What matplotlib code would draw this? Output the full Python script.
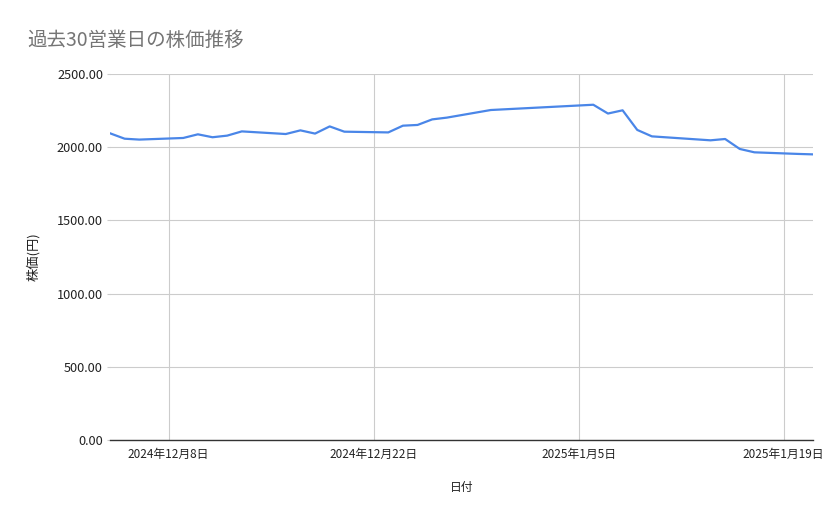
import datetime as dt
import matplotlib
matplotlib.use("Agg")
import matplotlib.pyplot as plt
from matplotlib.ticker import FuncFormatter

plt.rcParams['font.family'] = ['Noto Sans CJK JP', 'DejaVu Sans']

dates = ["2024-12-04", "2024-12-05", "2024-12-06", "2024-12-09", "2024-12-10",
         "2024-12-11", "2024-12-12", "2024-12-13", "2024-12-16", "2024-12-17",
         "2024-12-18", "2024-12-19", "2024-12-20", "2024-12-23", "2024-12-24",
         "2024-12-25", "2024-12-26", "2024-12-27", "2024-12-30", "2025-01-06",
         "2025-01-07", "2025-01-08", "2025-01-09", "2025-01-10", "2025-01-14",
         "2025-01-15", "2025-01-16", "2025-01-17", "2025-01-20", "2025-01-21"]
prices = [2095, 2058, 2052, 2063, 2088,
          2068, 2079, 2108, 2090, 2115,
          2093, 2142, 2106, 2101, 2147,
          2152, 2190, 2202, 2254, 2290,
          2230, 2252, 2118, 2074, 2047,
          2056, 1988, 1965, 1954, 1951]
tick_dates = ["2024-12-08", "2024-12-22", "2025-01-05", "2025-01-19"]

x = [dt.datetime.strptime(d, "%Y-%m-%d") for d in dates]
ticks = [dt.datetime.strptime(d, "%Y-%m-%d") for d in tick_dates]

fig = plt.figure(figsize=(8.39, 5.19), dpi=100)
ax = fig.add_axes([110/839, 79/519, 703/839, 366/519])

ax.plot(x, prices, color='#4a86e8', linewidth=1.6)

ax.set_ylim(0, 2500)
ax.set_yticks([0, 500, 1000, 1500, 2000, 2500])
ax.yaxis.set_major_formatter(FuncFormatter(lambda v, p: f"{v:.2f}"))
ax.set_xlim(x[0], x[-1])
ax.set_xticks(ticks)
ax.set_xticklabels([f"{d.year}年{d.month}月{d.day}日" for d in ticks])

ax.grid(True, color='#cccccc', linewidth=0.8)
ax.set_axisbelow(True)
for s in ['top', 'right', 'left']:
    ax.spines[s].set_visible(False)
ax.spines['bottom'].set_color('#333333')
ax.spines['bottom'].set_linewidth(1.0)
ax.tick_params(axis='y', length=2, color='#cccccc', labelsize=9.2, labelcolor='#222222', pad=3)
ax.tick_params(axis='x', length=0, labelsize=8.5, labelcolor='#222222', pad=6)

ax.set_xlabel("日付", fontsize=8.5, color='#222222', labelpad=14)
ax.set_ylabel("株価(円)", fontsize=9.5, color='#222222', labelpad=12)

fig.text(27/839, 1 - 40/519, "過去30営業日の株価推移", fontsize=14, color='#757575',
         va='center', ha='left')

fig.savefig("out.png", dpi=100)
